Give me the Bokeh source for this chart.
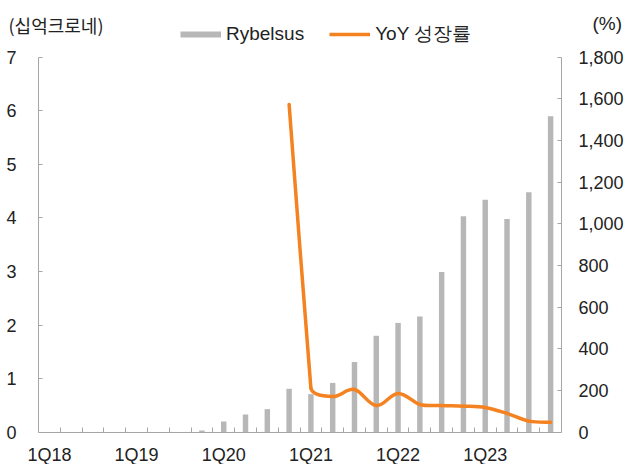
from bokeh.plotting import figure
from bokeh.models import (Range1d, LinearAxis, FixedTicker, NumeralTickFormatter,
                          Legend, LegendItem, Label, ColumnDataSource)
from bokeh.embed import file_html
from bokeh.resources import INLINE

# ---------------- data ----------------
quarters = ["1Q18", "2Q18", "3Q18", "4Q18",
            "1Q19", "2Q19", "3Q19", "4Q19",
            "1Q20", "2Q20", "3Q20", "4Q20",
            "1Q21", "2Q21", "3Q21", "4Q21",
            "1Q22", "2Q22", "3Q22", "4Q22",
            "1Q23", "2Q23", "3Q23", "4Q23"]
rybelsus = [0, 0, 0, 0,
            0, 0, 0, 0.03,
            0.20, 0.33, 0.43, 0.81,
            0.71, 0.92, 1.31, 1.80,
            2.04, 2.16, 2.99, 4.03,
            4.34, 3.98, 4.48, 5.90]
yoy_quarters = ["4Q20", "1Q21", "2Q21", "3Q21", "4Q21", "1Q22", "2Q22",
                "3Q22", "4Q22", "1Q23", "2Q23", "3Q23", "4Q23"]
yoy_growth = [1573, 212, 171, 205, 128, 186, 133, 128, 125, 119, 90, 53, 48]
tick_labels = ["1Q18", "1Q19", "1Q20", "1Q21", "1Q22", "1Q23"]

# ---------------- layout constants ----------------
W, H = 628, 464
AX_L, AX_R, AX_T, AX_B = 38, 561, 56.7, 431.7   # pixel box of the axes
Y1_MAX, Y2_MAX = 7, 1800
N = len(quarters)
PX = (AX_R - AX_L) / N
PY = (AX_B - AX_T) / Y1_MAX
K2 = Y2_MAX / Y1_MAX

FONT = "Liberation Sans"
TXT = "#222222"
AXIS_C = "#a6a6a6"
BAR_C = "#b7b7b7"
LINE_C = "#f58220"

pos = {q: i + 0.5 for i, q in enumerate(quarters)}
bar_x = [pos[q] for q in quarters]

y_lo = -(H - AX_B) / PY
y_hi = Y1_MAX + AX_T / PY
p = figure(width=W, height=H,
           x_range=Range1d(-AX_L / PX, (W - AX_L) / PX),
           y_range=Range1d(y_lo, y_hi),
           output_backend="svg", toolbar_location=None,
           min_border_left=0, min_border_right=0, min_border_top=0, min_border_bottom=0)
p.extra_y_ranges = {"pct": Range1d(y_lo * K2, y_hi * K2)}
p.outline_line_color = None
p.xgrid.visible = False
p.ygrid.visible = False

# bars
bars = p.vbar(x=bar_x, top=rybelsus, width=0.25, fill_color=BAR_C, line_color=None)

# smoothed line (Bezier segments computed from the data points)
sxk = PX
syk = PY / K2
lx = [pos[q] for q in yoy_quarters]
pts = [(x * sxk, y * syk) for x, y in zip(lx, yoy_growth)]
m = len(pts)
def dist(a, b):
    return ((a[0] - b[0]) ** 2 + (a[1] - b[1]) ** 2) ** 0.5
cin = [None] * m
cout = [None] * m
cin[0] = cout[0] = pts[0]
cin[-1] = cout[-1] = pts[-1]
for i in range(1, m - 1):
    d0 = dist(pts[i - 1], pts[i])
    d1 = dist(pts[i], pts[i + 1])
    tx = pts[i + 1][0] - pts[i - 1][0]
    ty = pts[i + 1][1] - pts[i - 1][1]
    tl = (tx * tx + ty * ty) ** 0.5
    h = min(d0, d1) / 3.0
    ux, uy = tx / tl * h, ty / tl * h
    cout[i] = (pts[i][0] + ux, pts[i][1] + uy)
    cin[i] = (pts[i][0] - ux, pts[i][1] - uy)
seg = dict(x0=[], y0=[], x1=[], y1=[], cx0=[], cy0=[], cx1=[], cy1=[])
for i in range(m - 1):
    seg["x0"].append(pts[i][0] / sxk); seg["y0"].append(pts[i][1] / syk)
    seg["x1"].append(pts[i + 1][0] / sxk); seg["y1"].append(pts[i + 1][1] / syk)
    seg["cx0"].append(cout[i][0] / sxk); seg["cy0"].append(cout[i][1] / syk)
    seg["cx1"].append(cin[i + 1][0] / sxk); seg["cy1"].append(cin[i + 1][1] / syk)
p.bezier(x0="x0", y0="y0", x1="x1", y1="y1", cx0="cx0", cy0="cy0", cx1="cx1", cy1="cy1",
         source=ColumnDataSource(seg), line_color=LINE_C, line_width=3.5,
         line_cap="round", y_range_name="pct")

# legend swatches (no visible data)
nan = float("nan")
leg_bar = p.line(x=[nan], y=[nan], line_color=BAR_C, line_width=6)
leg_line = p.line(x=[nan], y=[nan], line_color=LINE_C, line_width=3.5)

# axes (fixed at the data origin so the frame spans the whole canvas)
xa = p.xaxis[0]
xa.fixed_location = 0
xa.bounds = (0, N)
xa.ticker = FixedTicker(ticks=[pos[t] for t in tick_labels],
                        minor_ticks=list(range(1, N)))
xa.major_label_overrides = {pos[t]: t for t in tick_labels}
xa.major_tick_line_color = None
xa.major_tick_in = 0
xa.major_tick_out = 0
xa.minor_tick_line_color = AXIS_C
xa.minor_tick_in = 5
xa.minor_tick_out = 0
xa.axis_line_color = AXIS_C
xa.major_label_standoff = 13
xa.major_label_text_font = FONT
xa.major_label_text_font_size = "18px"
xa.major_label_text_color = TXT

ya = p.yaxis[0]
ya.fixed_location = 0
ya.bounds = (0, Y1_MAX)
ya.ticker = FixedTicker(ticks=list(range(0, Y1_MAX + 1)))
ya.major_tick_in = 4
ya.major_tick_out = 0
ya.minor_tick_line_color = None
ya.axis_line_color = AXIS_C
ya.major_tick_line_color = AXIS_C
ya.major_label_standoff = 22
ya.major_label_text_font = FONT
ya.major_label_text_font_size = "18px"
ya.major_label_text_color = TXT

ra = LinearAxis(y_range_name="pct", fixed_location=N, bounds=(0, Y2_MAX),
                ticker=FixedTicker(ticks=list(range(0, Y2_MAX + 1, 200))),
                formatter=NumeralTickFormatter(format="0,0"))
ra.major_tick_in = 4
ra.major_tick_out = 0
ra.minor_tick_line_color = None
ra.axis_line_color = AXIS_C
ra.major_tick_line_color = AXIS_C
ra.major_label_standoff = 17
ra.major_label_text_font = FONT
ra.major_label_text_font_size = "18px"
ra.major_label_text_color = TXT
p.add_layout(ra, "right")

# legend
legend = Legend(items=[LegendItem(label="Rybelsus", renderers=[leg_bar]),
                       LegendItem(label="YoY 성장률", renderers=[leg_line])],
                orientation="horizontal", location=(180, H - 47),
                glyph_width=41, glyph_height=22, label_standoff=5, spacing=25,
                padding=0, margin=0, border_line_color=None,
                background_fill_alpha=0,
                label_text_font=FONT, label_text_font_size="19px",
                label_text_color=TXT)
p.add_layout(legend, "center")

# unit labels
p.add_layout(Label(x=8, y=H - 24, x_units="screen", y_units="screen",
                   text="(십억크로네)", text_font="Noto Sans CJK KR",
                   text_font_size="18px", text_color=TXT, text_baseline="middle"))
p.add_layout(Label(x=592, y=H - 23, x_units="screen", y_units="screen",
                   text="(%)", text_font=FONT,
                   text_font_size="19px", text_color=TXT, text_baseline="middle"))

open("out.html", "w").write(file_html(p, INLINE))
